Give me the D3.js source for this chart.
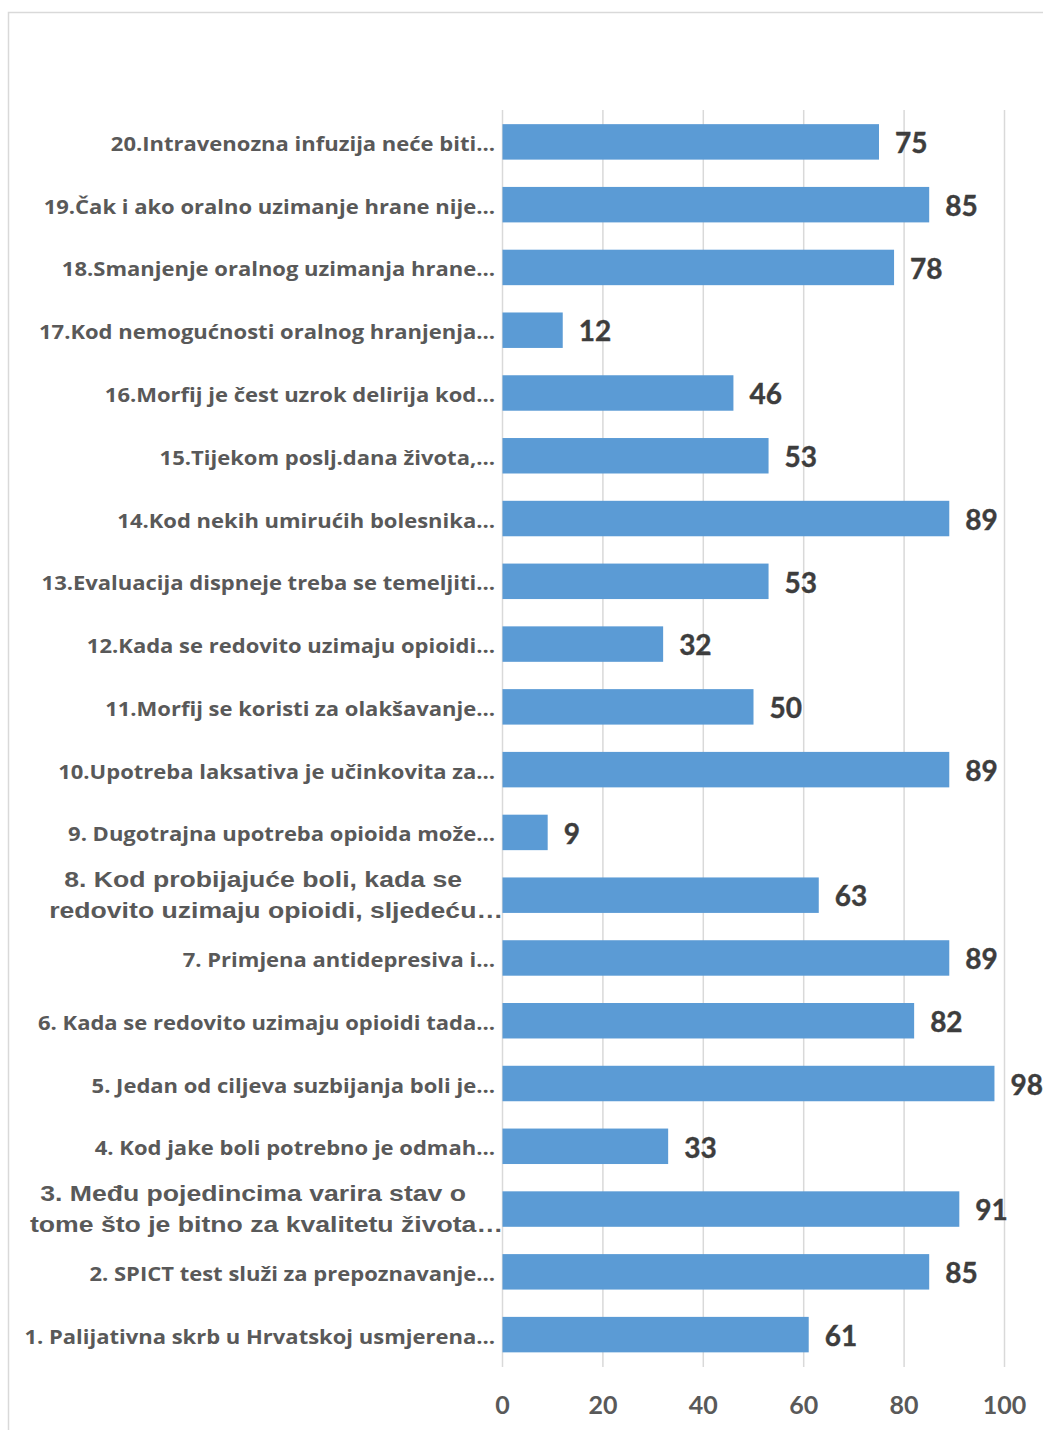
<!DOCTYPE html>
<html><head><meta charset="utf-8">
<script src="https://cdn.jsdelivr.net/npm/d3@7"></script>
<style>html,body{margin:0;padding:0;background:#fff;}svg{display:block;}</style>
</head><body>
<svg id="chart" width="1043" height="1430"></svg>
<script>
const categories = [
  ["20.Intravenozna infuzija neće biti…"],
  ["19.Čak i ako oralno uzimanje hrane nije…"],
  ["18.Smanjenje oralnog uzimanja hrane…"],
  ["17.Kod nemogućnosti oralnog hranjenja…"],
  ["16.Morfij je čest uzrok delirija kod…"],
  ["15.Tijekom poslj.dana života,…"],
  ["14.Kod nekih umirućih bolesnika…"],
  ["13.Evaluacija dispneje treba se temeljiti…"],
  ["12.Kada se redovito uzimaju opioidi…"],
  ["11.Morfij se koristi za olakšavanje…"],
  ["10.Upotreba laksativa je učinkovita za…"],
  ["9. Dugotrajna upotreba opioida može…"],
  ["8. Kod probijajuće boli, kada se", "redovito uzimaju opioidi, sljedeću…"],
  ["7. Primjena antidepresiva i…"],
  ["6. Kada se redovito uzimaju opioidi tada…"],
  ["5. Jedan od ciljeva suzbijanja boli je…"],
  ["4. Kod jake boli potrebno je odmah…"],
  ["3. Među pojedincima varira stav o", "tome što je bitno za kvalitetu života…"],
  ["2. SPICT test služi za prepoznavanje…"],
  ["1. Palijativna skrb u Hrvatskoj usmjerena…"]
];
const values = [75, 85, 78, 12, 46, 53, 89, 53, 32, 50, 89, 9, 63, 89, 82, 98, 33, 91, 85, 61];
const xTicks = [0, 20, 40, 60, 80, 100];

// layout of the two wrapped labels: [line1 dy, line2 dy, line1 right edge offset]
const wrapLayout = {12: [-7.5, 23, -41], 17: [-7.5, 23, -37]};

const svg = d3.select("#chart");
// frame
svg.append("path").attr("d", "M8.5,1430 L8.5,12.5 L1043,12.5")
  .attr("fill", "none").attr("stroke", "#d9d9d9").attr("stroke-width", 1.5);

const x = d3.scaleLinear().domain([0, 100]).range([502.5, 1004.5]);
const y = d3.scaleBand().domain(d3.range(categories.length)).range([110, 1365.5]).paddingInner(0.435).paddingOuter(0.2175);

// gridlines
svg.append("g").selectAll("line").data(xTicks).join("line")
  .attr("x1", d => x(d)).attr("x2", d => x(d))
  .attr("y1", 110).attr("y2", 1367)
  .attr("stroke", "#d9d9d9").attr("stroke-width", 1.5);

// bars
svg.append("g").selectAll("rect").data(values).join("rect")
  .attr("x", x(0)).attr("y", (d, i) => y(i) + 0.5)
  .attr("width", d => x(d) - x(0)).attr("height", y.bandwidth())
  .attr("fill", "#5b9bd5");

// value labels
svg.append("g").selectAll("text").data(values).join("text")
  .attr("x", d => x(d) + 16).attr("y", (d, i) => y(i) + y.bandwidth() / 2)
  .attr("dy", "0.42em")
  .attr("font-family", "Lato, 'Open Sans', sans-serif").attr("font-weight", 700)
  .attr("font-size", 28).attr("fill", "#3d3d3d")
  .attr("stroke", "#3d3d3d").attr("stroke-width", 0.4)
  .text(d => d);

// category labels
const lab = svg.append("g");
categories.forEach((lines, i) => {
  const cy = y(i) + y.bandwidth() / 2;
  if (lines.length === 1) {
    lab.append("text")
      .attr("transform", `translate(495, ${cy + 9.5}) scale(1.1,1)`)
      .attr("text-anchor", "end")
      .attr("font-family", "'Open Sans', sans-serif").attr("font-weight", 700)
      .attr("font-size", 20).attr("fill", "#595959")
      .text(lines[0]);
  } else {
    const L = wrapLayout[i];
    lines.forEach((t, j) => {
      lab.append("text")
        .attr("transform", `translate(${503 + (j === 0 ? L[2] : 0)}, ${cy + L[j]}) scale(1.21,1)`)
        .attr("text-anchor", "end")
        .attr("font-family", "'Liberation Sans', Arial, sans-serif").attr("font-weight", 700)
        .attr("font-size", 22).attr("fill", "#595959")
        .text(t);
    });
  }
});

// x axis tick labels
svg.append("g").selectAll("text").data(xTicks).join("text")
  .attr("x", d => x(d)).attr("y", 1414)
  .attr("text-anchor", "middle")
  .attr("font-family", "Lato, 'Open Sans', sans-serif").attr("font-weight", 700)
  .attr("font-size", 25).attr("fill", "#595959")
  .text(d => d);
</script>
</body></html>
